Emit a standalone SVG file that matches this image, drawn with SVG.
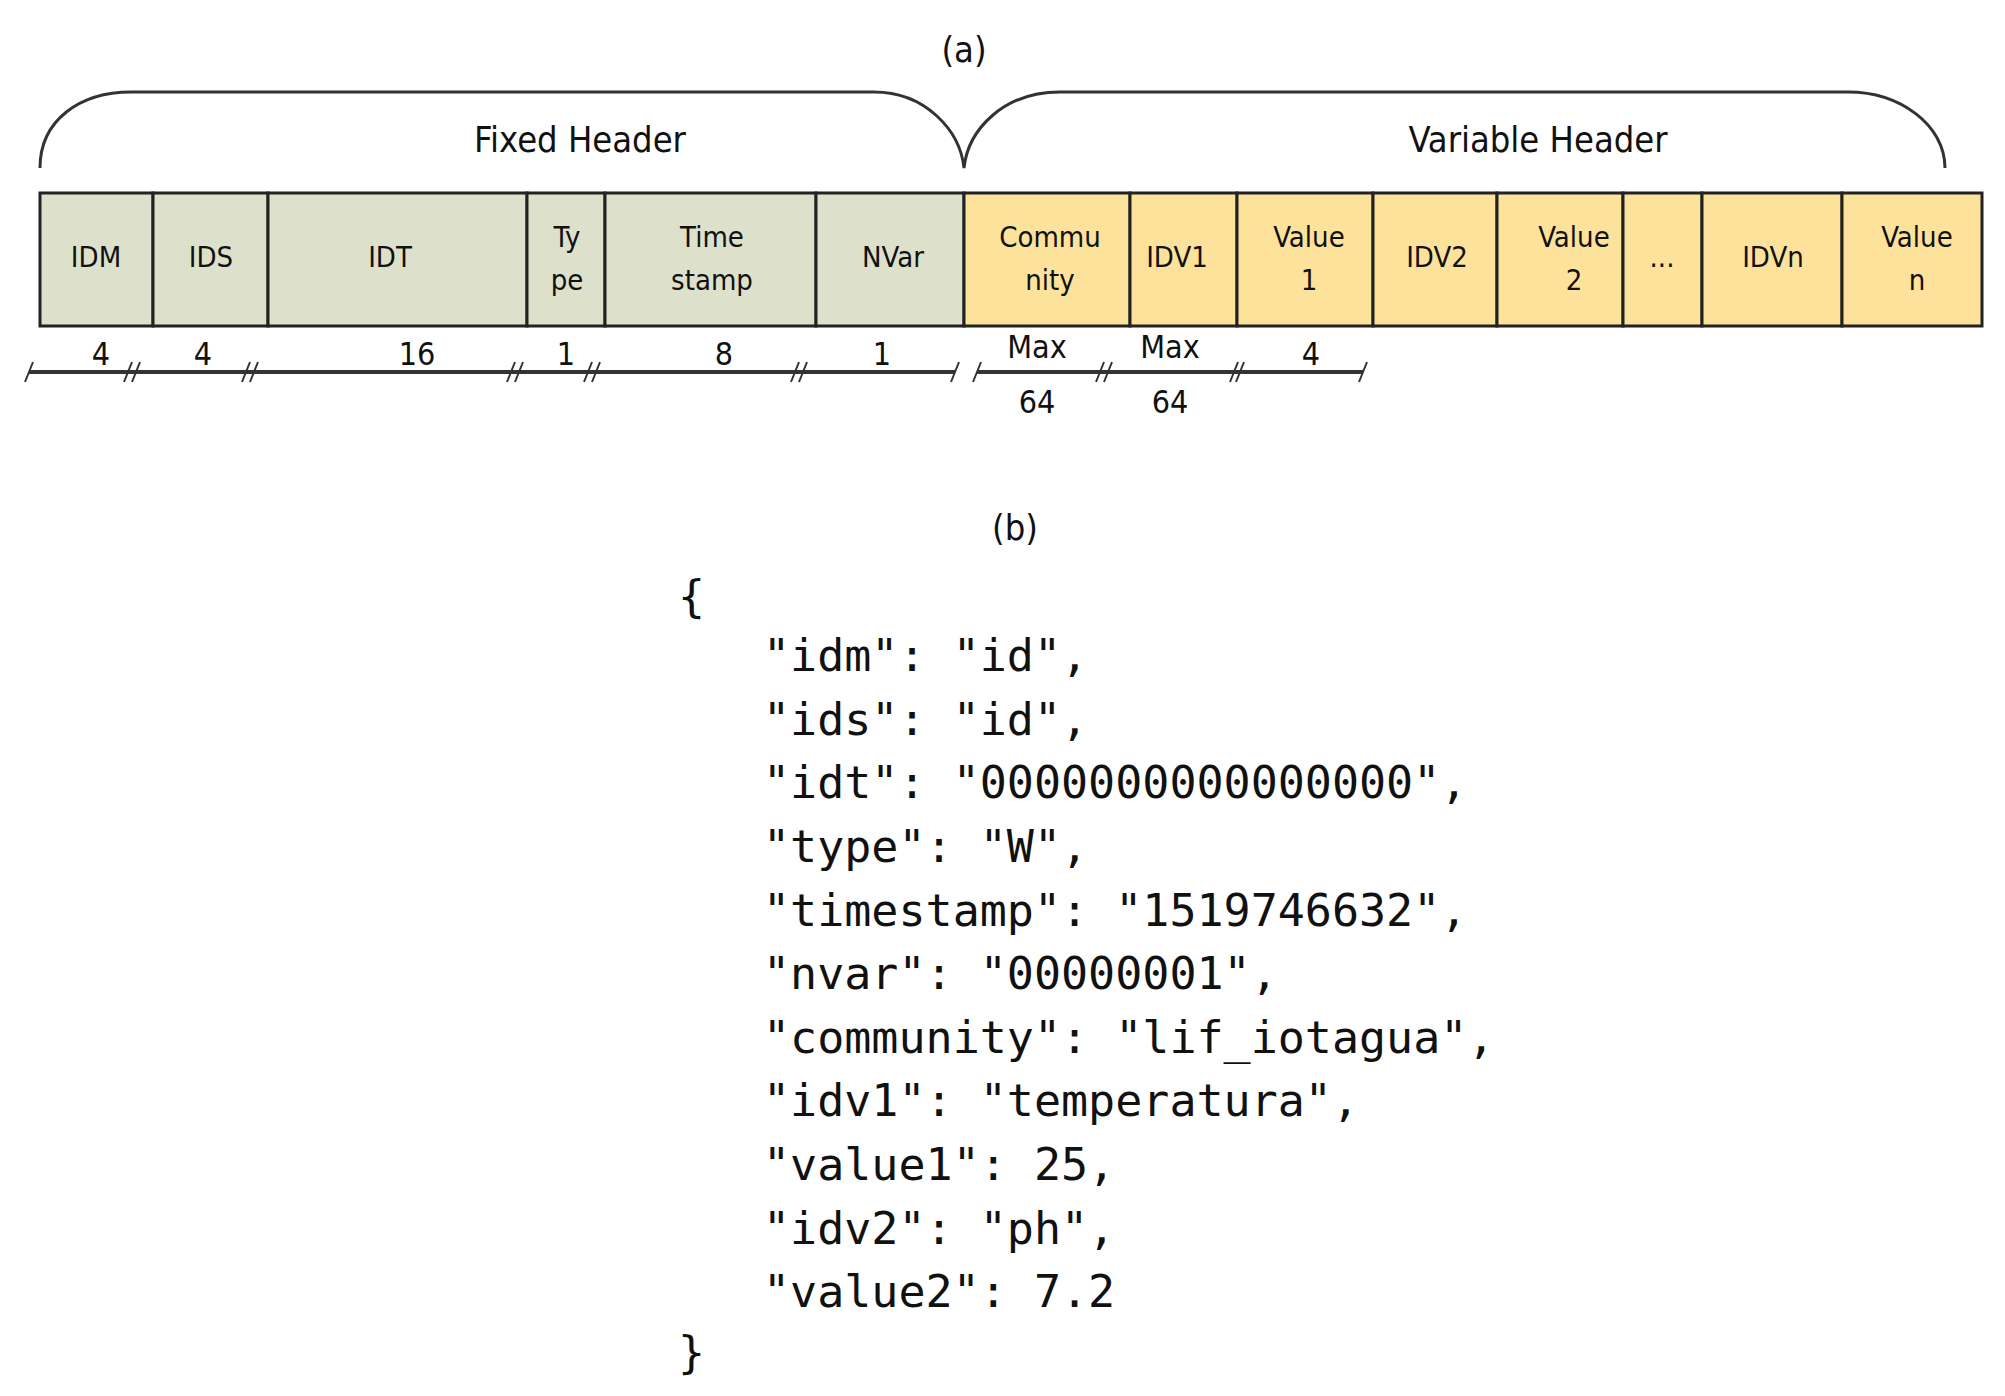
<svg xmlns="http://www.w3.org/2000/svg" width="2005" height="1396" viewBox="0 0 2005 1396">
<style>
.t{font-family:"DejaVu Sans Condensed","DejaVu Sans",sans-serif;fill:#111;text-anchor:middle}
.lab{font-size:29px}
.cap{font-size:36px}
.num{font-size:32px}
.f{fill:#dde1cb;stroke:#222;stroke-width:3}
.v{fill:#fde29b;stroke:#222;stroke-width:3}
.br{fill:none;stroke:#333;stroke-width:3}
.dim{fill:none;stroke:#333;stroke-width:4}
.tk{fill:none;stroke:#333;stroke-width:2}
.m{font-family:"DejaVu Sans Mono","Liberation Mono",monospace;font-size:45px;fill:#111}
</style>
<rect width="2005" height="1396" fill="#fff"/>
<text class="t cap" x="964" y="62">(a)</text>
<text class="t cap" x="1015" y="540">(b)</text>
<g id="braces">
<path class="br" d="M40,168 C40,120 80,92 131,92 L874,92 C925,92 960,130 964,168 C968,130 1003,92 1060,92 L1848,92 C1900,92 1945,125 1945,168"/>
<text class="t cap" x="580" y="152">Fixed Header</text>
<text class="t cap" x="1538" y="152">Variable Header</text>
</g>
<g id="n-idm"><rect class="f" x="40" y="193" width="113" height="133"/><text class="t lab" x="96" y="267">IDM</text></g>
<g id="n-ids"><rect class="f" x="153" y="193" width="115" height="133"/><text class="t lab" x="211" y="267">IDS</text></g>
<g id="n-idt"><rect class="f" x="268" y="193" width="259" height="133"/><text class="t lab" x="390" y="267">IDT</text></g>
<g id="n-type"><rect class="f" x="527" y="193" width="78" height="133"/><text class="t lab" x="567" y="247">Ty</text><text class="t lab" x="567" y="290">pe</text></g>
<g id="n-ts"><rect class="f" x="605" y="193" width="211" height="133"/><text class="t lab" x="712" y="247">Time</text><text class="t lab" x="712" y="290">stamp</text></g>
<g id="n-nvar"><rect class="f" x="816" y="193" width="148" height="133"/><text class="t lab" x="893" y="267">NVar</text></g>
<g id="n-comm"><rect class="v" x="964" y="193" width="166" height="133"/><text class="t lab" x="1050" y="247">Commu</text><text class="t lab" x="1050" y="290">nity</text></g>
<g id="n-idv1"><rect class="v" x="1130" y="193" width="107" height="133"/><text class="t lab" x="1177" y="267">IDV1</text></g>
<g id="n-val1"><rect class="v" x="1237" y="193" width="136" height="133"/><text class="t lab" x="1309" y="247">Value</text><text class="t lab" x="1309" y="290">1</text></g>
<g id="n-idv2"><rect class="v" x="1373" y="193" width="124" height="133"/><text class="t lab" x="1437" y="267">IDV2</text></g>
<g id="n-val2"><rect class="v" x="1497" y="193" width="126" height="133"/><text class="t lab" x="1574" y="247">Value</text><text class="t lab" x="1574" y="290">2</text></g>
<g id="n-dots"><rect class="v" x="1623" y="193" width="79" height="133"/><text class="t lab" x="1662" y="267">...</text></g>
<g id="n-idvn"><rect class="v" x="1702" y="193" width="140" height="133"/><text class="t lab" x="1773" y="267">IDVn</text></g>
<g id="n-valn"><rect class="v" x="1842" y="193" width="140" height="133"/><text class="t lab" x="1917" y="247">Value</text><text class="t lab" x="1917" y="290">n</text></g>
<g id="connectors">
<path class="dim" d="M29,372 H955 M977,372 H1363"/>
<path class="tk" d="M33,362 l-8,20 M132,362 l-8,20 M140,362 l-8,20 M250,362 l-8,20 M258,362 l-8,20 M515,362 l-8,20 M523,362 l-8,20 M592,362 l-8,20 M600,362 l-8,20 M799,362 l-8,20 M807,362 l-8,20 M959,362 l-8,20 M981,362 l-8,20 M1104,362 l-8,20 M1112,362 l-8,20 M1238,362 l-8,20 M1244,362 l-8,20 M1367,362 l-8,20"/>
</g>
<g id="dims">
<text class="t num" x="101" y="365">4</text>
<text class="t num" x="203" y="365">4</text>
<text class="t num" x="417" y="365">16</text>
<text class="t num" x="566" y="365">1</text>
<text class="t num" x="724" y="365">8</text>
<text class="t num" x="882" y="365">1</text>
<text class="t num" x="1037" y="358">Max</text>
<text class="t num" x="1037" y="413">64</text>
<text class="t num" x="1170" y="358">Max</text>
<text class="t num" x="1170" y="413">64</text>
<text class="t num" x="1311" y="365">4</text>
</g>
<g id="json">
<text class="m" x="678" y="612">{</text>
<text class="m" x="763" y="671">"idm": "id",</text>
<text class="m" x="763" y="735">"ids": "id",</text>
<text class="m" x="763" y="798">"idt": "0000000000000000",</text>
<text class="m" x="763" y="862">"type": "W",</text>
<text class="m" x="763" y="926">"timestamp": "1519746632",</text>
<text class="m" x="763" y="989">"nvar": "00000001",</text>
<text class="m" x="763" y="1053">"community": "lif_iotagua",</text>
<text class="m" x="763" y="1116">"idv1": "temperatura",</text>
<text class="m" x="763" y="1180">"value1": 25,</text>
<text class="m" x="763" y="1244">"idv2": "ph",</text>
<text class="m" x="763" y="1307">"value2": 7.2</text>
<text class="m" x="678" y="1368">}</text>
</g>
</svg>
